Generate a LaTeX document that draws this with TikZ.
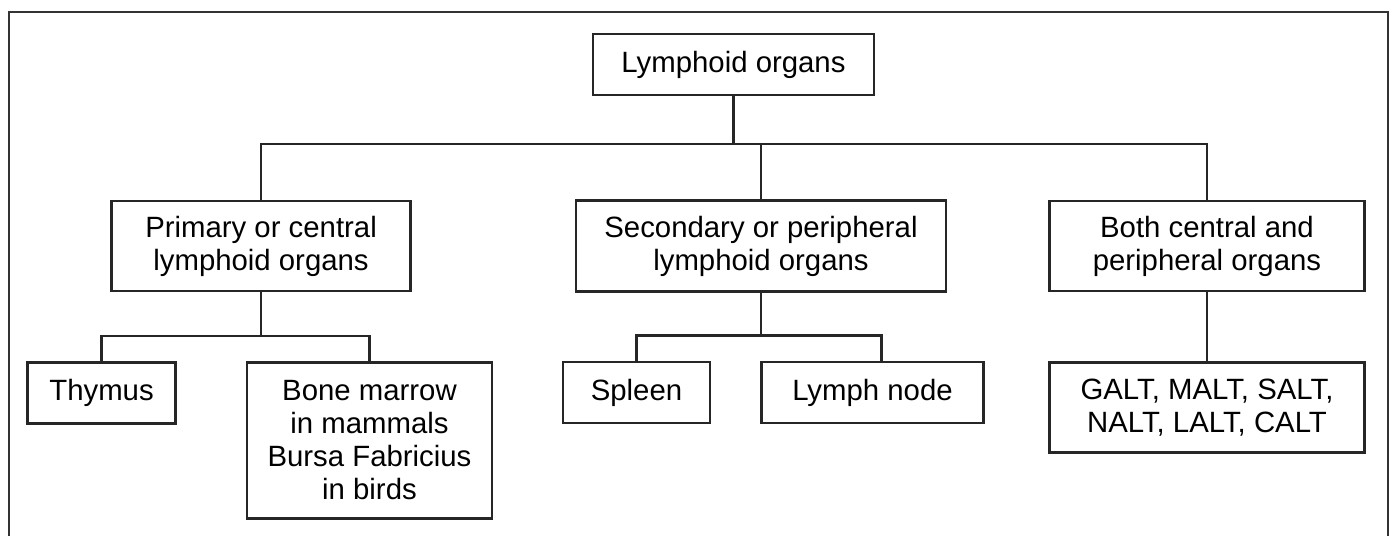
\documentclass[tikz,border=0pt]{standalone}
\usepackage{fontspec}
\setmainfont{Liberation Sans}
\usepackage{tikz}
\usetikzlibrary{shapes.geometric, calc, positioning}
\tikzstyle{box} = [rectangle, line width=1.4pt, draw=black!85, align=center, text centered, font=\fontsize{16.7}{18.8}\selectfont]
\tikzstyle{line} = [line width=1.4pt, draw=black!85]
\tikzstyle{frame} = [line width=1.6pt, draw=black!80]

\begin{document}
\begin{tikzpicture}
		\useasboundingbox (0,0) rectangle (27.84,-10.72);
		\node (Root) [box, minimum width=5.62cm, minimum height=1.22cm] at (14.67,-1.29) {Lymphoid organs};
		\node (Secondary) [box, minimum width=7.4cm, minimum height=1.82cm, below = 2.06cm of Root, xshift=0.55cm] {Secondary or peripheral\\lymphoid organs};
		\node (Primary) [box, minimum width=5.98cm, minimum height=1.8cm, left = 3.26cm of Secondary] {Primary or central\\lymphoid organs};
		\node (Both) [box, minimum width=6.3cm, minimum height=1.8cm, right = 2.02cm of Secondary] {Both central and\\peripheral organs};
		\node (Thymus) [box, minimum width=2.96cm, minimum height=1.22cm, below = 1.38cm of Primary, xshift=-3.19cm] {Thymus};
		\node (BoneMarrow) [box, minimum width=4.9cm, minimum height=3.12cm, right = 1.38cm of Thymus.north east, anchor=north west] {Bone marrow\\in mammals\\Bursa Fabricius\\in birds};
		\node (Spleen) [box, minimum width=2.94cm, minimum height=1.22cm, below = 1.36cm of Secondary, xshift=-2.49cm] {Spleen};
		\node (LymphNode) [box, minimum width=4.44cm, minimum height=1.22cm, right = 0.98cm of Spleen] {Lymph node};
		\node (GALT) [box, minimum width=6.3cm, minimum height=1.8cm, below = 1.38cm of Both] {GALT, MALT, SALT,\\NALT, LALT, CALT};
		\draw [line] (Root.south) -- ++(0,-0.96) coordinate (RootBus);
		\draw [line] (Primary.north) |- (RootBus) -| (Both.north);
		\draw [line] (Secondary.north) -- (Secondary.north |- RootBus);
		\draw [line] (Primary.south) -- ++(0,-0.88) coordinate (PrimaryBus);
		\draw [line] (Thymus.north) |- (PrimaryBus) -| (BoneMarrow.north);
		\draw [line] (Secondary.south) -- ++(0,-0.86) coordinate (SecondaryBus);
		\draw [line] (Spleen.north) |- (SecondaryBus) -| ([xshift=0.18cm]LymphNode.north);
		\draw [line] (Both) -- (GALT);
		\draw [frame] (0.18,-10.72) -- (0.18,-0.24) -- (27.76,-0.24) -- (27.76,-10.72);
	\end{tikzpicture}
\end{document}
